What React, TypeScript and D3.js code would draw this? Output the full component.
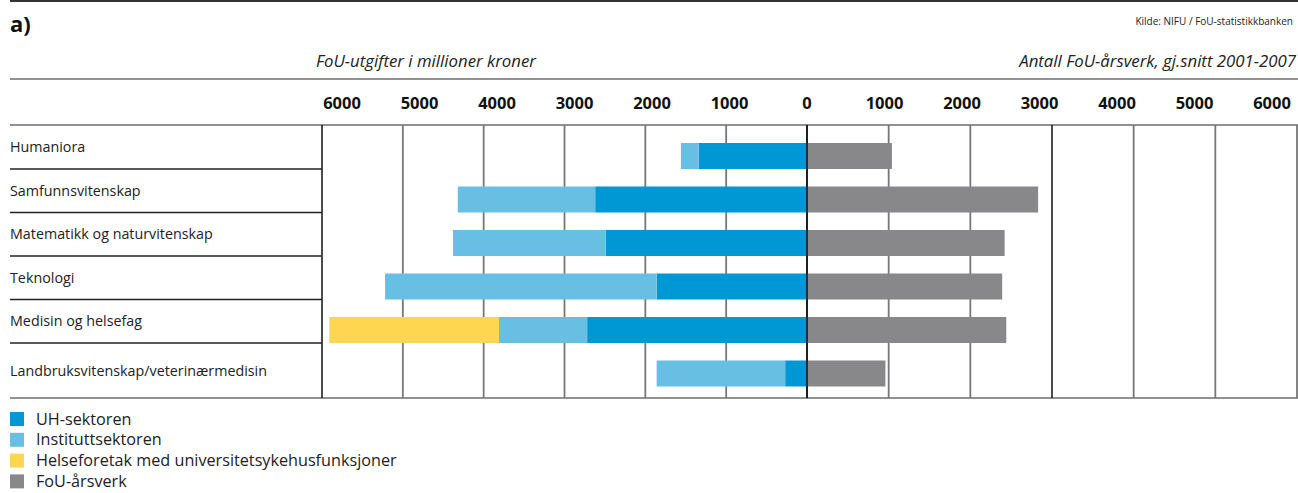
import React, { useEffect, useRef } from "react";
import * as d3 from "d3";

const WIDTH = 1298;
const HEIGHT = 493;
const FONT = "'Open Sans', 'Noto Sans', sans-serif";

const categories = [
  "Humaniora",
  "Samfunnsvitenskap",
  "Matematikk og naturvitenskap",
  "Teknologi",
  "Medisin og helsefag",
  "Landbruksvitenskap/veterinærmedisin",
];

// FoU-utgifter, mill. kr (stacked outward from 0)
const uhSektor = [1340, 2620, 2490, 1860, 2720, 270];
const instituttSektor = [220, 1700, 1890, 3360, 1090, 1590];
const helseforetak = [0, 0, 0, 0, 2100, 0];

// FoU-årsverk, gj.snitt 2001-2007
const arsverk = [1040, 2830, 2420, 2390, 2440, 960];

const tickValues = [0, 1000, 2000, 3000, 4000, 5000, 6000];

const series = [
  { key: "UH-sektoren", values: uhSektor, color: "#0098d4" },
  { key: "Instituttsektoren", values: instituttSektor, color: "#67c0e4" },
  { key: "Helseforetak med universitetsykehusfunksjoner", values: helseforetak, color: "#ffd64f" },
];
const ARSVERK_COLOR = "#88888a";

const legendItems = [
  ...series.map((s) => ({ label: s.key, color: s.color })),
  { label: "FoU-årsverk", color: ARSVERK_COLOR },
];

const FoUChart = () => {
  const svgRef = useRef<SVGSVGElement>(null);

  useEffect(() => {
    const svg = d3.select(svgRef.current);
    svg.selectAll("*").remove();

    const plotTop = 125;
    const plotBottom = 398;
    const labelLeft = 10;

    // Scales
    const xLeft = d3.scaleLinear().domain([0, 6000]).range([807, 322]);
    const xRight = d3.scaleLinear().domain([0, 6000]).range([807, 1297]);
    // tick labels sit slightly inside the gridlines
    const tickLeft = d3.scaleLinear().domain([0, 6000]).range([807, 342]);
    const tickRight = d3.scaleLinear().domain([0, 6000]).range([807, 1272]);

    const yBand = d3
      .scaleBand()
      .domain(categories)
      .range([125.5, 386.5])
      .paddingInner(0)
      .paddingOuter(0);
    const barH = 26;

    // Header
    svg.append("line")
      .attr("x1", labelLeft).attr("x2", WIDTH)
      .attr("y1", 1).attr("y2", 1)
      .attr("stroke", "#333").attr("stroke-width", 2);

    svg.append("text")
      .attr("x", 10).attr("y", 32)
      .style("font-family", FONT).style("font-weight", 700).style("font-size", "22px")
      .attr("fill", "#111")
      .text("a)");

    svg.append("text")
      .attr("x", 1293).attr("y", 25)
      .attr("text-anchor", "end")
      .style("font-family", FONT).style("font-size", "10px")
      .attr("fill", "#222")
      .text("Kilde: NIFU / FoU-statistikkbanken");

    svg.append("text")
      .attr("x", 316).attr("y", 67)
      .style("font-family", FONT).style("font-style", "italic").style("font-size", "16.8px")
      .attr("fill", "#222")
      .text("FoU-utgifter i millioner kroner");

    svg.append("text")
      .attr("x", 1296).attr("y", 67)
      .attr("text-anchor", "end")
      .style("font-family", FONT).style("font-style", "italic").style("font-size", "16.8px")
      .attr("fill", "#222")
      .text("Antall FoU-årsverk, gj.snitt 2001-2007");

    // Horizontal frame lines
    [79, plotTop, plotBottom].forEach((y) => {
      svg.append("line")
        .attr("x1", labelLeft).attr("x2", WIDTH)
        .attr("y1", y).attr("y2", y)
        .attr("stroke", "#6d6d6d").attr("stroke-width", 1.5);
    });

    // Tick labels
    const tickG = svg.append("g")
      .style("font-family", FONT).style("font-weight", 700).style("font-size", "16.5px")
      .attr("fill", "#111").attr("text-anchor", "middle");
    tickValues.forEach((t) => {
      tickG.append("text").attr("x", tickLeft(t)).attr("y", 109).text(t);
      if (t > 0) tickG.append("text").attr("x", tickRight(t)).attr("y", 109).text(t);
    });

    // Vertical gridlines
    const grid = svg.append("g");
    tickValues.forEach((t) => {
      const dark = t === 0 || t === 6000;
      grid.append("line")
        .attr("x1", xLeft(t)).attr("x2", xLeft(t))
        .attr("y1", plotTop).attr("y2", plotBottom)
        .attr("stroke", dark ? "#111" : "#777").attr("stroke-width", dark ? 1.5 : 1.8);
      if (t > 0) {
        const darkR = t === 3000;
        grid.append("line")
          .attr("x1", xRight(t)).attr("x2", xRight(t))
          .attr("y1", plotTop).attr("y2", plotBottom)
          .attr("stroke", darkR ? "#111" : "#777").attr("stroke-width", darkR ? 1.5 : 1.8);
      }
    });

    // Row separators in the label column
    categories.slice(0, -1).forEach((c) => {
      const y = (yBand(c) as number) + yBand.bandwidth();
      svg.append("line")
        .attr("x1", labelLeft).attr("x2", xLeft(6000))
        .attr("y1", y).attr("y2", y)
        .attr("stroke", "#222").attr("stroke-width", 1.3);
    });

    // Category labels
    categories.forEach((c, i) => {
      const top = yBand(c) as number;
      const bottom = i === categories.length - 1 ? plotBottom : top + yBand.bandwidth();
      svg.append("text")
        .attr("x", labelLeft).attr("y", (top + bottom) / 2)
        .attr("dy", "0.35em")
        .style("font-family", FONT).style("font-size", "14.3px")
        .attr("fill", "#222")
        .text(c);
    });

    // Expenditure bars (left, stacked outward)
    const barsG = svg.append("g");
    categories.forEach((c, i) => {
      const y = (yBand(c) as number) + yBand.bandwidth() - barH;
      let acc = 0;
      series.forEach((s) => {
        const v = s.values[i];
        if (v > 0) {
          barsG.append("rect")
            .attr("x", xLeft(acc + v))
            .attr("y", y)
            .attr("width", xLeft(acc) - xLeft(acc + v))
            .attr("height", barH)
            .attr("fill", s.color);
        }
        acc += v;
      });
      // Årsverk bar (right)
      barsG.append("rect")
        .attr("x", xRight(0))
        .attr("y", y)
        .attr("width", xRight(arsverk[i]) - xRight(0))
        .attr("height", barH)
        .attr("fill", ARSVERK_COLOR);
    });

    // Zero line on top of the bars
    svg.append("line")
      .attr("x1", xLeft(0)).attr("x2", xLeft(0))
      .attr("y1", plotTop).attr("y2", plotBottom)
      .attr("stroke", "#111").attr("stroke-width", 1.5);

    // Legend
    const legend = svg.append("g");
    legendItems.forEach((d, i) => {
      const cy = 419 + i * 20.8;
      legend.append("rect")
        .attr("x", 10).attr("y", cy - 7)
        .attr("width", 14).attr("height", 14)
        .attr("fill", d.color);
      legend.append("text")
        .attr("x", 36).attr("y", cy)
        .attr("dy", "0.35em")
        .style("font-family", FONT).style("font-size", "16.2px")
        .attr("fill", "#222")
        .text(d.label);
    });
  }, []);

  return (
    <svg
      ref={svgRef}
      width={WIDTH}
      height={HEIGHT}
      style={{ position: "absolute", left: 0, top: 0, background: "#fff" }}
    ></svg>
  );
};

export default function App() {
  return <FoUChart />;
}
